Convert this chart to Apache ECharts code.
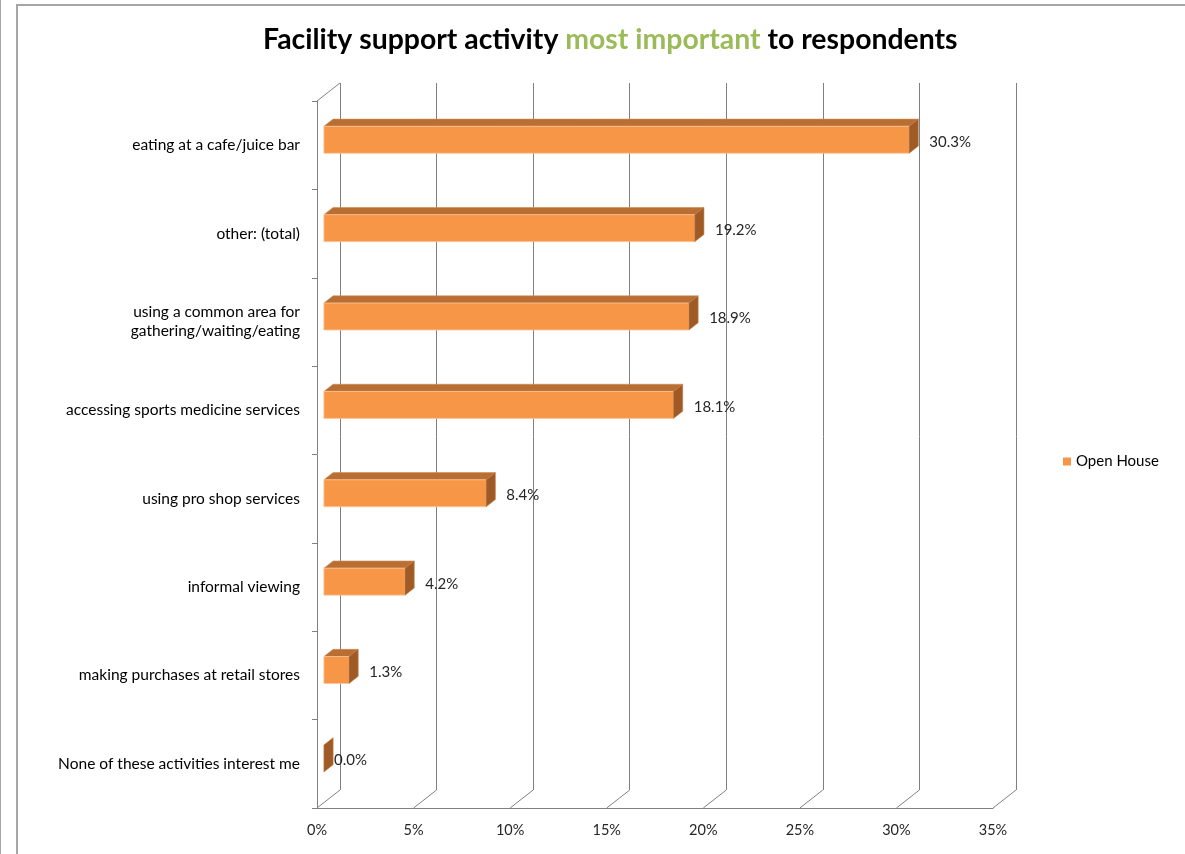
<!DOCTYPE html>
<html>
<head>
<meta charset="utf-8">
<script src="https://cdn.jsdelivr.net/npm/echarts@6/dist/echarts.min.js"></script>
<style>
html,body{margin:0;padding:0;background:#fff;}
#c{width:1185px;height:854px;}
</style>
</head>
<body>
<div id="c"></div>
<script>
const categories = [
  'eating at a cafe/juice bar',
  'other: (total)',
  'using a common area for\ngathering/waiting/eating',
  'accessing sports medicine services',
  'using pro shop services',
  'informal viewing',
  'making purchases at retail stores',
  'None of these activities interest me'
];
const openHouse = [30.3, 19.2, 18.9, 18.1, 8.4, 4.2, 1.3, 0.0];
const xTicks = [0, 5, 10, 15, 20, 25, 30, 35];
const seriesName = 'Open House';

// 3D depth of the plot box (back wall offset from front plane)
const DX = 23, DY = -18;
const BAR_FRONT = 0.3, BAR_BACK = 0.7;
const FONT = 'Lato, "Open Sans", sans-serif';
const GRAY = '#808080';

const chart = echarts.init(document.getElementById('c'));

function renderBar(params, api) {
  const v = api.value(0), c = api.value(1);
  const start = api.coord([0, c]);
  const end = api.coord([v, c]);
  const band = api.size([0, 1])[1];
  const h = band * 0.305;
  const ox = DX * BAR_FRONT, oy = DY * BAR_FRONT;
  const bx = DX * (BAR_BACK - BAR_FRONT), by = DY * (BAR_BACK - BAR_FRONT);
  const x0 = start[0] + ox, x1 = end[0] + ox;
  const yc = start[1] + oy;
  const yt = yc - h / 2, yb = yc + h / 2;
  const children = [];
  if (x1 - x0 > 0.5) {
    children.push({
      type: 'polygon',
      shape: { points: [[x0, yt], [x1, yt], [x1 + bx, yt + by], [x0 + bx, yt + by]] },
      style: { fill: '#b96f34', stroke: '#d08a50', lineWidth: 0.6 }
    });
    children.push({
      type: 'rect',
      shape: { x: x0, y: yt, width: x1 - x0, height: h },
      style: { fill: '#f79646', stroke: '#fbc89a', lineWidth: 0.8 }
    });
  }
  children.push({
    type: 'polygon',
    shape: { points: [[x1, yt], [x1 + bx, yt + by], [x1 + bx, yb + by], [x1, yb]] },
    style: { fill: '#a05a26', stroke: '#c07a40', lineWidth: 0.6 }
  });
  children.push({
    type: 'text',
    style: {
      text: v.toFixed(1) + '%',
      x: x1 + bx + (v < 0.5 ? 1 : 11),
      y: yc + 2,
      textVerticalAlign: 'middle',
      verticalAlign: 'middle',
      fill: '#262626',
      font: '15px ' + FONT
    }
  });
  return { type: 'group', children: children };
}

function renderFloor(params, api) {
  const v = api.value(0);
  const cs = params.coordSys;
  const p = api.coord([v, 0]);
  const yb = cs.y + cs.height;
  const children = [{
    type: 'line',
    shape: { x1: p[0], y1: yb, x2: p[0] + DX, y2: yb + DY },
    style: { stroke: GRAY, lineWidth: 1 }
  }];
  if (v === 0) {
    children.push({
      type: 'line',
      shape: { x1: cs.x, y1: cs.y, x2: cs.x + DX, y2: cs.y + DY },
      style: { stroke: GRAY, lineWidth: 1 }
    });
  }
  return { type: 'group', children: children };
}

chart.setOption({
  animation: false,
  title: {
    text: 'Facility support activity {g|most important} to respondents',
    left: 258,
    top: 21,
    textStyle: {
      fontFamily: FONT, fontSize: 28.4, fontWeight: 'bold', color: '#000',
      rich: { g: { fontFamily: FONT, fontSize: 28.4, fontWeight: 'bold', color: '#9bbb59' } }
    }
  },
  legend: {
    data: [{ name: seriesName, icon: 'rect', itemStyle: { color: '#f79646' } }],
    left: 1058, top: 449,
    itemWidth: 8, itemHeight: 8, itemGap: 5,
    textStyle: { fontFamily: FONT, fontSize: 15, color: '#000' }
  },
  graphic: [
    { type: 'rect', shape: { x: 17, y: 5, width: 1300, height: 1000 }, style: { fill: 'none', stroke: '#a6a6a6', lineWidth: 2 }, silent: true },
    { type: 'line', shape: { x1: 0.5, y1: 0, x2: 0.5, y2: 854 }, style: { stroke: '#a6a6a6', lineWidth: 1 }, silent: true }
  ],
  grid: [
    { left: 317, top: 101, width: 676, height: 707 },
    { left: 340, top: 83, width: 676, height: 707 }
  ],
  xAxis: [
    {
      gridIndex: 0, type: 'value', min: 0, max: 35, interval: 5,
      axisLine: { show: true, lineStyle: { color: GRAY } },
      axisTick: { show: false },
      splitLine: { show: false },
      axisLabel: { formatter: '{value}%', margin: 15, fontFamily: FONT, fontSize: 14.5, color: '#262626' }
    },
    {
      gridIndex: 1, type: 'value', min: 0, max: 35, interval: 5,
      axisLine: { show: false }, axisTick: { show: false }, axisLabel: { show: false },
      splitLine: { show: true, lineStyle: { color: GRAY, width: 1 } }
    }
  ],
  yAxis: [
    {
      gridIndex: 0, type: 'category', data: categories, inverse: true,
      axisLine: { show: true, lineStyle: { color: GRAY } },
      axisTick: { show: true, length: 5, lineStyle: { color: GRAY } },
      axisLabel: { margin: 17, fontFamily: FONT, fontSize: 15.5, color: '#000', lineHeight: 19, padding: [5, 0, 0, 0] },
      splitLine: { show: false }
    },
    {
      gridIndex: 1, type: 'category', data: categories, inverse: true,
      axisLine: { show: false }, axisTick: { show: false }, axisLabel: { show: false },
      splitLine: { show: false }
    }
  ],
  series: [
    {
      type: 'custom', name: 'floor', xAxisIndex: 0, yAxisIndex: 0,
      renderItem: renderFloor, silent: true,
      data: xTicks.map(t => [t, 0]), encode: { x: 0, y: 1 }, z: 1
    },
    {
      type: 'custom', name: seriesName, xAxisIndex: 0, yAxisIndex: 0,
      renderItem: renderBar,
      itemStyle: { color: '#f79646' },
      data: openHouse.map((v, i) => [v, i]), encode: { x: 0, y: 1 }, z: 5
    }
  ]
});
</script>
</body>
</html>
